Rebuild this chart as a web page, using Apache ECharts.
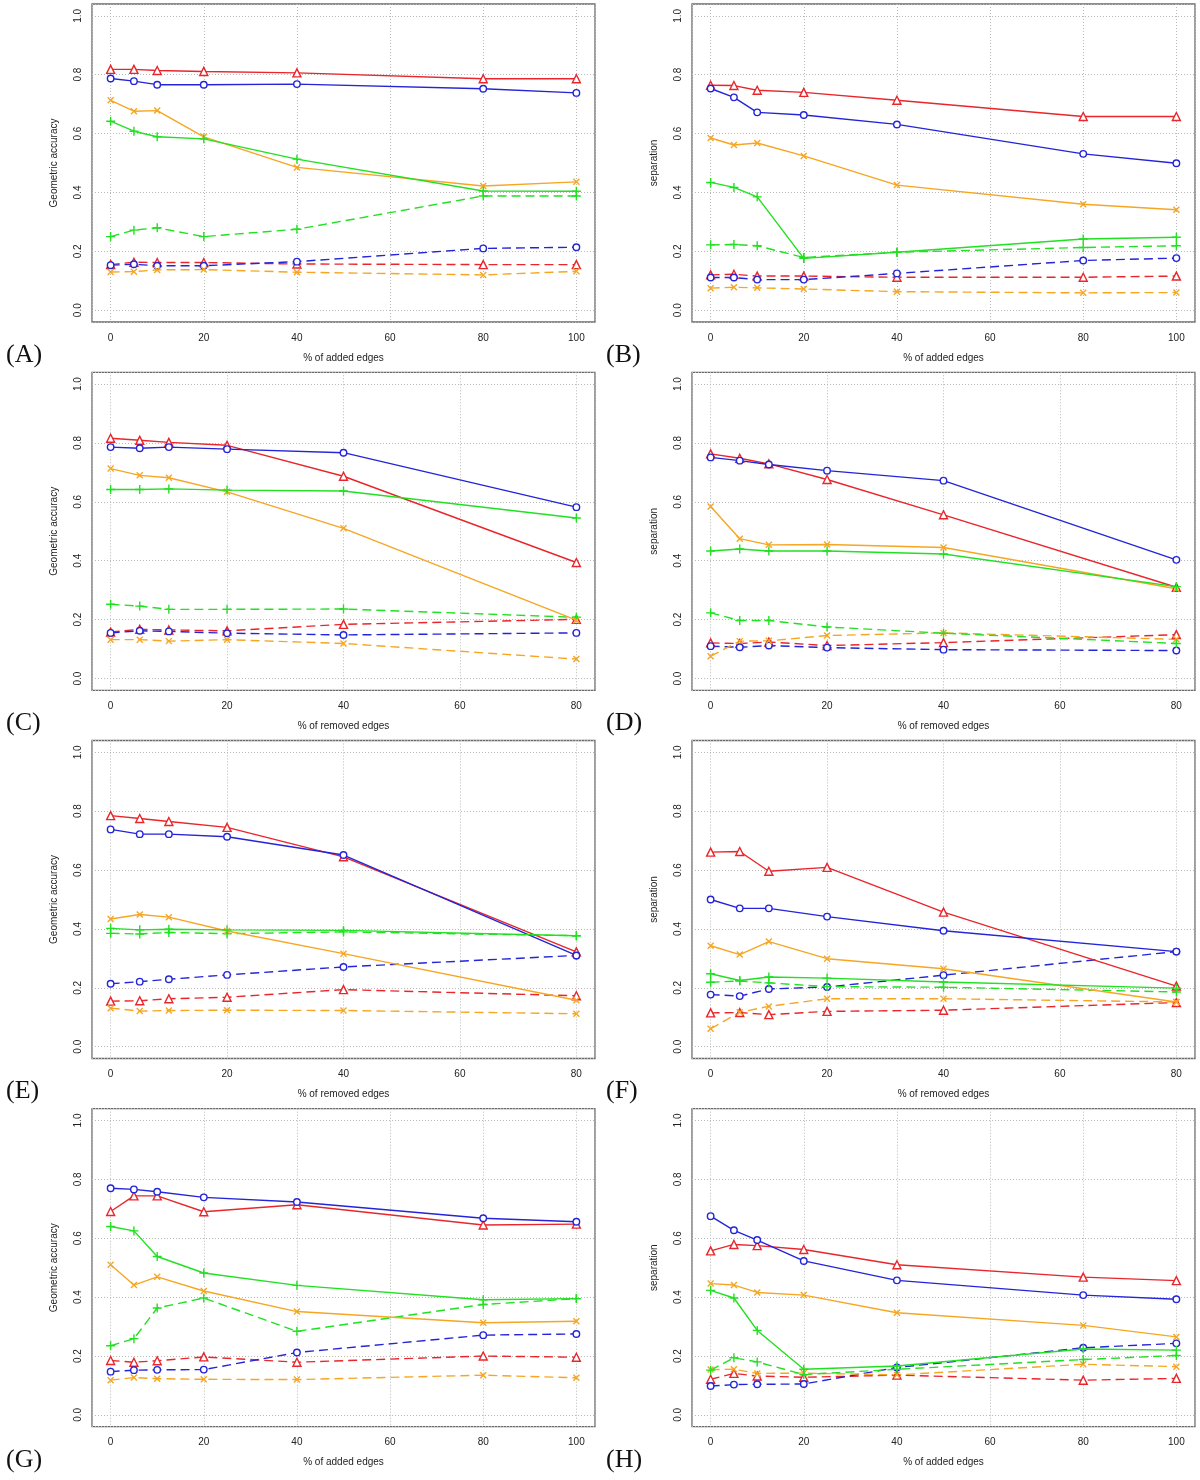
<!DOCTYPE html>
<html><head><meta charset="utf-8">
<script src="https://cdn.jsdelivr.net/npm/echarts@6/dist/echarts.min.js"></script>
<style>html,body{margin:0;padding:0;background:#fff}#c{width:1200px;height:1480px}</style>
</head><body><div id="c"></div>
<script>
// x categories
const xAdded = [0, 5, 10, 20, 40, 80, 100];
const xRemoved = [0, 5, 10, 20, 40, 80];
const xTickLabels = ['0', '20', '40', '60', '80', '100'];
const yTickLabels = ['0.0', '0.2', '0.4', '0.6', '0.8', '1.0'];

// Panel A (added edges, geometric accuracy)
const aRed = [0.818, 0.818, 0.814, 0.811, 0.806, 0.786, 0.786];
const aBlue = [0.787, 0.778, 0.766, 0.766, 0.768, 0.752, 0.738];
const aOrange = [0.713, 0.676, 0.678, 0.589, 0.485, 0.422, 0.436];
const aGreen = [0.642, 0.608, 0.589, 0.582, 0.513, 0.405, 0.404];
const aRedD = [0.155, 0.163, 0.162, 0.162, 0.157, 0.155, 0.155];
const aBlueD = [0.153, 0.156, 0.151, 0.151, 0.165, 0.210, 0.214];
const aOrangeD = [0.130, 0.131, 0.137, 0.138, 0.129, 0.120, 0.132];
const aGreenD = [0.250, 0.272, 0.280, 0.250, 0.275, 0.388, 0.388];

// Panel B (added edges, separation)
const bRed = [0.764, 0.763, 0.747, 0.740, 0.713, 0.658, 0.658];
const bBlue = [0.753, 0.723, 0.672, 0.663, 0.631, 0.531, 0.499];
const bOrange = [0.585, 0.561, 0.568, 0.524, 0.425, 0.360, 0.341];
const bGreen = [0.434, 0.417, 0.385, 0.176, 0.197, 0.242, 0.248];
const bRedD = [0.120, 0.122, 0.116, 0.116, 0.112, 0.112, 0.116];
const bBlueD = [0.111, 0.111, 0.104, 0.104, 0.125, 0.169, 0.177];
const bOrangeD = [0.075, 0.078, 0.076, 0.072, 0.063, 0.059, 0.060];
const bGreenD = [0.222, 0.223, 0.219, 0.179, 0.197, 0.213, 0.219];

// Panel C (removed edges, geometric accuracy)
const cRed = [0.816, 0.809, 0.802, 0.792, 0.687, 0.394];
const cBlue = [0.786, 0.782, 0.786, 0.779, 0.767, 0.582];
const cOrange = [0.713, 0.690, 0.682, 0.634, 0.510, 0.198];
const cGreen = [0.642, 0.642, 0.644, 0.640, 0.637, 0.545];
const cRedD = [0.158, 0.167, 0.165, 0.162, 0.184, 0.201];
const cBlueD = [0.155, 0.162, 0.160, 0.154, 0.148, 0.155];
const cOrangeD = [0.132, 0.132, 0.127, 0.132, 0.119, 0.066];
const cGreenD = [0.252, 0.246, 0.235, 0.235, 0.236, 0.208];

// Panel D (removed edges, separation)
const dRed = [0.763, 0.748, 0.729, 0.676, 0.556, 0.310];
const dBlue = [0.751, 0.740, 0.727, 0.706, 0.672, 0.403];
const dOrange = [0.584, 0.475, 0.454, 0.455, 0.445, 0.305];
const dGreen = [0.433, 0.440, 0.433, 0.433, 0.423, 0.312];
const dRedD = [0.121, 0.119, 0.124, 0.112, 0.122, 0.149];
const dBlueD = [0.110, 0.106, 0.112, 0.105, 0.098, 0.095];
const dOrangeD = [0.076, 0.127, 0.128, 0.146, 0.155, 0.133];
const dGreenD = [0.223, 0.197, 0.197, 0.175, 0.154, 0.119];

// Panel E (removed edges, geometric accuracy)
const eRed = [0.785, 0.775, 0.765, 0.745, 0.645, 0.322];
const eBlue = [0.738, 0.722, 0.722, 0.713, 0.651, 0.310];
const eOrange = [0.434, 0.449, 0.440, 0.393, 0.316, 0.158];
const eGreen = [0.402, 0.397, 0.399, 0.397, 0.395, 0.377];
const eRedD = [0.155, 0.156, 0.163, 0.168, 0.194, 0.173];
const eBlueD = [0.214, 0.221, 0.229, 0.244, 0.271, 0.310];
const eOrangeD = [0.131, 0.121, 0.123, 0.124, 0.123, 0.112];
const eGreenD = [0.385, 0.383, 0.388, 0.384, 0.390, 0.377];

// Panel F (removed edges, separation)
const fRed = [0.661, 0.663, 0.596, 0.609, 0.457, 0.206];
const fBlue = [0.500, 0.470, 0.470, 0.442, 0.394, 0.323];
const fOrange = [0.343, 0.313, 0.357, 0.299, 0.265, 0.152];
const fGreen = [0.248, 0.225, 0.237, 0.233, 0.220, 0.199];
const fRedD = [0.115, 0.116, 0.109, 0.120, 0.124, 0.150];
const fBlueD = [0.177, 0.172, 0.196, 0.203, 0.243, 0.323];
const fOrangeD = [0.061, 0.117, 0.137, 0.163, 0.163, 0.152];
const fGreenD = [0.219, 0.223, 0.217, 0.204, 0.202, 0.186];

// Panel G (added edges, geometric accuracy)
const gRed = [0.691, 0.744, 0.744, 0.690, 0.714, 0.645, 0.648];
const gBlue = [0.770, 0.766, 0.758, 0.739, 0.723, 0.668, 0.656];
const gOrange = [0.510, 0.441, 0.469, 0.421, 0.351, 0.313, 0.318];
const gGreen = [0.640, 0.625, 0.538, 0.482, 0.440, 0.391, 0.395];
const gRedD = [0.185, 0.179, 0.184, 0.197, 0.179, 0.200, 0.196];
const gBlueD = [0.147, 0.152, 0.153, 0.154, 0.212, 0.271, 0.275];
const gOrangeD = [0.118, 0.127, 0.123, 0.121, 0.120, 0.135, 0.126];
const gGreenD = [0.235, 0.259, 0.363, 0.397, 0.284, 0.375, 0.395];

// Panel H (added edges, separation)
const hRed = [0.557, 0.579, 0.575, 0.562, 0.510, 0.468, 0.456];
const hBlue = [0.675, 0.627, 0.594, 0.523, 0.457, 0.407, 0.393];
const hOrange = [0.446, 0.441, 0.416, 0.407, 0.347, 0.304, 0.265];
const hGreen = [0.423, 0.397, 0.287, 0.155, 0.166, 0.224, 0.220];
const hRedD = [0.121, 0.141, 0.132, 0.128, 0.135, 0.118, 0.124];
const hBlueD = [0.098, 0.103, 0.104, 0.105, 0.161, 0.228, 0.243];
const hOrangeD = [0.154, 0.155, 0.141, 0.142, 0.136, 0.172, 0.164];
const hGreenD = [0.152, 0.194, 0.180, 0.137, 0.155, 0.188, 0.202];

const panelLetters = ['(A)', '(B)', '(C)', '(D)', '(E)', '(F)', '(G)', '(H)'];
const yNames = ['Geometric accuracy', 'separation'];
const xNames = ['% of added edges', '% of removed edges'];

const panels = [
  {xs: xAdded, yn: 0, xn: 0, s: [aRed, aBlue, aOrange, aGreen, aRedD, aBlueD, aOrangeD, aGreenD]},
  {xs: xAdded, yn: 1, xn: 0, s: [bRed, bBlue, bOrange, bGreen, bRedD, bBlueD, bOrangeD, bGreenD]},
  {xs: xRemoved, yn: 0, xn: 1, s: [cRed, cBlue, cOrange, cGreen, cRedD, cBlueD, cOrangeD, cGreenD]},
  {xs: xRemoved, yn: 1, xn: 1, s: [dRed, dBlue, dOrange, dGreen, dRedD, dBlueD, dOrangeD, dGreenD]},
  {xs: xRemoved, yn: 0, xn: 1, s: [eRed, eBlue, eOrange, eGreen, eRedD, eBlueD, eOrangeD, eGreenD]},
  {xs: xRemoved, yn: 1, xn: 1, s: [fRed, fBlue, fOrange, fGreen, fRedD, fBlueD, fOrangeD, fGreenD]},
  {xs: xAdded, yn: 0, xn: 0, s: [gRed, gBlue, gOrange, gGreen, gRedD, gBlueD, gOrangeD, gGreenD]},
  {xs: xAdded, yn: 1, xn: 0, s: [hRed, hBlue, hOrange, hGreen, hRedD, hBlueD, hOrangeD, hGreenD]}
];

const RED = '#e8262b', BLUE = '#2424d8', ORANGE = '#f6a623', GREEN = '#22e022';
const styles = [
  {c: RED, sym: 'triangle', size: 8, fill: '#fff'},
  {c: BLUE, sym: 'circle', size: 6.5, fill: '#fff'},
  {c: ORANGE, sym: 'path://M0,0L10,10M10,0L0,10', size: 6, fill: 'rgba(0,0,0,0)'},
  {c: GREEN, sym: 'path://M5,0L5,10M0,5L10,5', size: 9, fill: 'rgba(0,0,0,0)'}
];

const lefts = [92, 692];
const tops = [4, 372.3, 740.5, 1108.7];
const W = 503, H = 318;
const labelFont = '"Liberation Sans", "DejaVu Sans", Arial, sans-serif';

const grids = [], xAxes = [], yAxes = [], series = [], graphics = [];
panels.forEach((p, i) => {
  const col = i % 2, row = Math.floor(i / 2);
  const xmax = p.xs[p.xs.length - 1];
  const pad = xmax * 0.04;
  grids.push({left: lefts[col], top: tops[row], width: W, height: H, show: true,
    borderColor: '#6a6a6a', borderWidth: 1.3, backgroundColor: 'transparent', containLabel: false});
  xAxes.push({type: 'value', gridIndex: i, min: -pad, max: xmax + pad, splitNumber: 5,
    name: xNames[p.xn], nameLocation: 'middle', nameGap: 31,
    nameTextStyle: {fontSize: 10, color: '#222', fontFamily: labelFont},
    axisLine: {show: false}, axisTick: {show: false},
    axisLabel: {fontSize: 10, color: '#222', margin: 11, fontFamily: labelFont,
      formatter: v => { const k = Math.round(v / 20); return Math.abs(v - k * 20) < 1e-6 ? xTickLabels[k] : ''; }},
    splitLine: {show: true, lineStyle: {color: '#b8b8b8', type: [1, 2], width: 1}}});
  yAxes.push({type: 'value', gridIndex: i, min: -0.04, max: 1.04, splitNumber: 5,
    name: yNames[p.yn], nameLocation: 'middle', nameGap: 33, nameRotate: 90,
    nameTextStyle: {fontSize: 10, color: '#222', fontFamily: labelFont},
    axisLine: {show: false}, axisTick: {show: false},
    axisLabel: {fontSize: 10, color: '#222', margin: 9, rotate: 90, fontFamily: labelFont,
      formatter: v => { const k = Math.round(v / 0.2); return Math.abs(v - k * 0.2) < 1e-6 ? yTickLabels[k] : ''; }},
    splitLine: {show: true, lineStyle: {color: '#b8b8b8', type: [1, 2], width: 1}}});
  p.s.forEach((vals, j) => {
    const st = styles[j % 4];
    const dashed = j >= 4;
    series.push({type: 'line', xAxisIndex: i, yAxisIndex: i,
      data: p.xs.map((x, k) => [x, vals[k]]),
      symbol: st.sym, symbolSize: st.size, showSymbol: true,
      lineStyle: {color: st.c, width: 1.4, type: dashed ? [9, 5] : 'solid'},
      itemStyle: {color: st.fill, borderColor: st.c, borderWidth: 1.4},
      z: dashed ? 2 : 3, silent: true});
  });
  graphics.push({type: 'text', left: col * 600 + 6, top: tops[row] + 338,
    style: {text: panelLetters[i], font: '26px "Liberation Serif", "DejaVu Serif", serif', fill: '#111'}});
});

const chart = echarts.init(document.getElementById('c'), null, {renderer: 'canvas'});
chart.setOption({animation: false, grid: grids, xAxis: xAxes, yAxis: yAxes, series: series, graphic: graphics});
</script></body></html>
